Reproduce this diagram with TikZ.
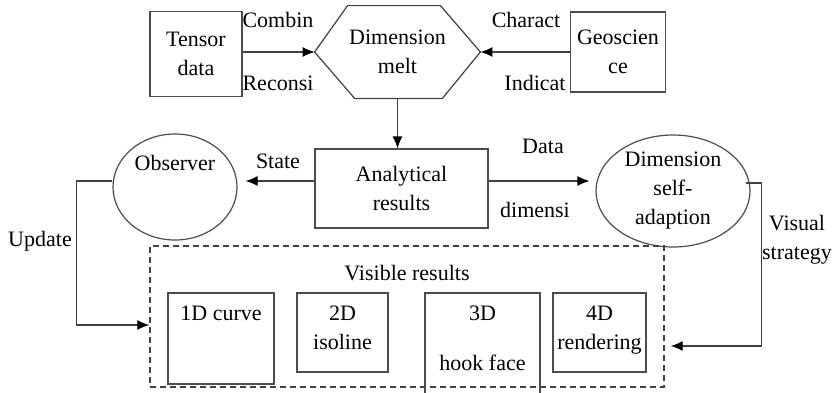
\documentclass[tikz,border=0pt]{standalone}
\usepackage{fontspec}
\setmainfont{Liberation Serif}
\usetikzlibrary{arrows.meta,shapes.geometric}

\begin{document}
\begin{tikzpicture}[x=0.5pt,y=-0.5pt,
		font=\fontsize{11}{14.5}\selectfont,
		every node/.style={align=center},
		box/.style={draw=black!70,line width=0.6pt},
		edge/.style={draw=black!75,line width=0.6pt},
		arr/.style={edge,-{Latex[length=6pt,width=5pt,color=black]}},
		dashbox/.style={draw=black!75,line width=0.7pt,dash pattern=on 3pt off 2pt}]
			\useasboundingbox (0,0) rectangle (835,392);

			% top row
			\node[box,minimum width=46pt,minimum height=42.5pt] (tensor) at (196,54) {Tensor\\data};
			\node[minimum width=82.5pt,minimum height=46pt] (melt) at (397.5,52) {Dimension\\melt};
			\draw[edge] ([xshift=16.5pt]melt.north west) -- ([xshift=-20pt]melt.north east) -- (melt.east)
				-- ([xshift=-19pt]melt.south east) -- ([xshift=20pt]melt.south west) -- (melt.west) -- cycle;
			\node[box,minimum width=46pt,minimum height=40pt] (geo) at (618,52) {Geoscien\\ce};
			\draw[arr] (tensor.east |- melt) -- (melt.west);
			\draw[arr] (geo) -- (melt.east);
			\node (combin) at (278,20) {Combin};
			\node (reconsi) at (278,83) {Reconsi};
			\node (charact) at (526,20) {Charact};
			\node (indicat) at (535,83) {Indicat};

			% middle row
			\node[box,minimum width=86.5pt,minimum height=39.5pt] (ana) at (401.5,188.5) {Analytical\\results};
			\draw[arr] (melt.south) -- (melt.south |- ana.north);
			\node[box,ellipse,minimum width=62pt,minimum height=53pt] (obs) at (175,187) {};
			\node (obstext) at (175,163) {Observer};
			\node[box,ellipse,inner sep=0pt,minimum width=77pt,minimum height=56pt] (adapt) at (673,191) {Dimension\\self-\\adaption};
			\draw[arr] ([yshift=3.75pt]ana.west) -- ([xshift=4pt,yshift=3pt]obs.east);
			\draw[arr] ([yshift=3.75pt]ana.east) -- ([xshift=-3pt,yshift=5pt]adapt.west);
			\node (state) at (278,161) {State};
			\node (data) at (543,146) {Data};
			\node (dimensi) at (535,210) {dimensi};

			% visible results
			\node[dashbox,minimum width=257pt,minimum height=70.5pt] (vis) at (407,316.5) {};
			\node (vistext) at (407,273) {Visible results};
			\node[box,minimum width=53pt,minimum height=45.5pt,
				label={[anchor=north,yshift=-3.3pt]north:1D curve}] (d1) at (221,338.5) {};
			\node[box,minimum width=45.5pt,minimum height=39.5pt,
				label={[anchor=north,yshift=-3.3pt]north:{2D\\isoline}}] (d2) at (342.5,332.5) {};
			\node[box,minimum width=57.5pt,minimum height=53.5pt,
				label={[anchor=north,yshift=-3.3pt]north:{3D\\[10.5pt]hook face}}] (d3) at (482.5,346.5) {};
			\node[box,minimum width=46.5pt,minimum height=39.5pt,
				label={[anchor=north,yshift=-3.3pt]north:{4D\\rendering}}] (d4) at (599.5,332.5) {};

			% feedback
			\draw[arr] ([yshift=3pt]obs.west) -- ++(-18pt,0) |- ([yshift=-4.25pt]vis.west);
			\node (update) at (40,241) {Update};
			\draw[arr] ([xshift=-2.5pt,yshift=4pt]adapt.east) -- ++(8pt,0) |- ([xshift=3pt,yshift=-14.75pt]vis.east);
			\node (visual) at (797,240) {Visual\\strategy};
		\end{tikzpicture}
\end{document}
